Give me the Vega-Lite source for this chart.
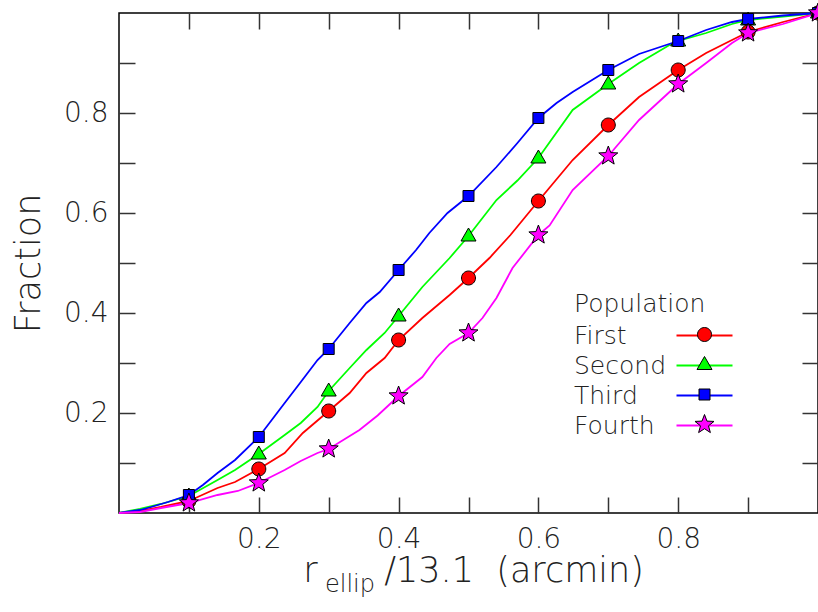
{
  "$schema": "https://vega.github.io/schema/vega-lite/v6.json",
  "width": 699,
  "height": 500,
  "autosize": {"type": "none"},
  "padding": {"left": 119, "top": 13, "right": 0, "bottom": 99},
  "background": "white",
  "config": {
    "view": {"stroke": "black", "strokeWidth": 1.5},
    "font": "DejaVu Sans",
    "axis": {
      "domain": false, "grid": false, "tickSize": -16, "tickColor": "#333", "tickWidth": 1.5,
      "labelFont": "DejaVu Sans", "labelFontSize": 28, "labelColor": "#222", "labelFontWeight": 200,
      "titleFont": "DejaVu Sans", "titleFontWeight": 200, "titleColor": "#222"
    },
    "legend": {
      "orient": "none", "legendX": 455, "padding": 0,
      "titleFontSize": 25, "titleFontWeight": 200, "titleFont": "DejaVu Sans", "titleColor": "#222", "titlePadding": 6,
      "labelFontSize": 25, "labelFont": "DejaVu Sans", "labelFontWeight": 200, "labelColor": "#222",
      "symbolSize": 4, "symbolOffset": 118, "labelOffset": -143, "rowPadding": 4
    }
  },
  "title": {"text": "ellip", "orient": "bottom", "anchor": "start", "frame": "group", "fontSize": 24, "fontWeight": 200, "font": "DejaVu Sans", "color": "#222", "dx": 206, "dy": -19},
  "datasets": {
    "curves": [
      {"Population": "First", "x": 0, "f": 0},
      {"Population": "First", "x": 0.03, "f": 0.004},
      {"Population": "First", "x": 0.06, "f": 0.012},
      {"Population": "First", "x": 0.1, "f": 0.024},
      {"Population": "First", "x": 0.141, "f": 0.05},
      {"Population": "First", "x": 0.166, "f": 0.062},
      {"Population": "First", "x": 0.2, "f": 0.088},
      {"Population": "First", "x": 0.237, "f": 0.12},
      {"Population": "First", "x": 0.263, "f": 0.16},
      {"Population": "First", "x": 0.3, "f": 0.204},
      {"Population": "First", "x": 0.33, "f": 0.24},
      {"Population": "First", "x": 0.354, "f": 0.28},
      {"Population": "First", "x": 0.38, "f": 0.31},
      {"Population": "First", "x": 0.4, "f": 0.346},
      {"Population": "First", "x": 0.434, "f": 0.39},
      {"Population": "First", "x": 0.473, "f": 0.436},
      {"Population": "First", "x": 0.5, "f": 0.47},
      {"Population": "First", "x": 0.53, "f": 0.51},
      {"Population": "First", "x": 0.56, "f": 0.556},
      {"Population": "First", "x": 0.6, "f": 0.624},
      {"Population": "First", "x": 0.649, "f": 0.706},
      {"Population": "First", "x": 0.7, "f": 0.776},
      {"Population": "First", "x": 0.744, "f": 0.832},
      {"Population": "First", "x": 0.8, "f": 0.886},
      {"Population": "First", "x": 0.84, "f": 0.92},
      {"Population": "First", "x": 0.877, "f": 0.946},
      {"Population": "First", "x": 0.9, "f": 0.962},
      {"Population": "First", "x": 0.95, "f": 0.982},
      {"Population": "First", "x": 1.0, "f": 1.0},
      {"Population": "Second", "x": 0, "f": 0},
      {"Population": "Second", "x": 0.03, "f": 0.008},
      {"Population": "Second", "x": 0.06, "f": 0.018},
      {"Population": "Second", "x": 0.1, "f": 0.034},
      {"Population": "Second", "x": 0.141, "f": 0.066},
      {"Population": "Second", "x": 0.166, "f": 0.086},
      {"Population": "Second", "x": 0.2, "f": 0.118},
      {"Population": "Second", "x": 0.237, "f": 0.156},
      {"Population": "Second", "x": 0.26, "f": 0.18},
      {"Population": "Second", "x": 0.284, "f": 0.212},
      {"Population": "Second", "x": 0.3, "f": 0.244},
      {"Population": "Second", "x": 0.33, "f": 0.29},
      {"Population": "Second", "x": 0.354, "f": 0.326},
      {"Population": "Second", "x": 0.38, "f": 0.36},
      {"Population": "Second", "x": 0.4, "f": 0.394},
      {"Population": "Second", "x": 0.434, "f": 0.452},
      {"Population": "Second", "x": 0.473, "f": 0.51},
      {"Population": "Second", "x": 0.5, "f": 0.554},
      {"Population": "Second", "x": 0.54, "f": 0.626},
      {"Population": "Second", "x": 0.57, "f": 0.665},
      {"Population": "Second", "x": 0.6, "f": 0.71},
      {"Population": "Second", "x": 0.649, "f": 0.806},
      {"Population": "Second", "x": 0.7, "f": 0.858},
      {"Population": "Second", "x": 0.744, "f": 0.9},
      {"Population": "Second", "x": 0.79, "f": 0.938},
      {"Population": "Second", "x": 0.8, "f": 0.944},
      {"Population": "Second", "x": 0.84, "f": 0.96},
      {"Population": "Second", "x": 0.877, "f": 0.978},
      {"Population": "Second", "x": 0.9, "f": 0.986},
      {"Population": "Second", "x": 0.95, "f": 0.993},
      {"Population": "Second", "x": 1.0, "f": 1.0},
      {"Population": "Third", "x": 0, "f": 0},
      {"Population": "Third", "x": 0.03, "f": 0.006},
      {"Population": "Third", "x": 0.046, "f": 0.012},
      {"Population": "Third", "x": 0.07, "f": 0.022},
      {"Population": "Third", "x": 0.1, "f": 0.036},
      {"Population": "Third", "x": 0.12, "f": 0.056},
      {"Population": "Third", "x": 0.141, "f": 0.08},
      {"Population": "Third", "x": 0.166, "f": 0.106},
      {"Population": "Third", "x": 0.2, "f": 0.152},
      {"Population": "Third", "x": 0.237, "f": 0.22},
      {"Population": "Third", "x": 0.259, "f": 0.26},
      {"Population": "Third", "x": 0.284, "f": 0.306},
      {"Population": "Third", "x": 0.3, "f": 0.328},
      {"Population": "Third", "x": 0.33, "f": 0.38},
      {"Population": "Third", "x": 0.354, "f": 0.42},
      {"Population": "Third", "x": 0.373, "f": 0.442},
      {"Population": "Third", "x": 0.4, "f": 0.486},
      {"Population": "Third", "x": 0.425, "f": 0.526},
      {"Population": "Third", "x": 0.444, "f": 0.56},
      {"Population": "Third", "x": 0.47, "f": 0.6},
      {"Population": "Third", "x": 0.5, "f": 0.634},
      {"Population": "Third", "x": 0.54, "f": 0.692},
      {"Population": "Third", "x": 0.57, "f": 0.74},
      {"Population": "Third", "x": 0.6, "f": 0.79},
      {"Population": "Third", "x": 0.626, "f": 0.82},
      {"Population": "Third", "x": 0.649, "f": 0.842},
      {"Population": "Third", "x": 0.7, "f": 0.886},
      {"Population": "Third", "x": 0.744, "f": 0.918},
      {"Population": "Third", "x": 0.8, "f": 0.944},
      {"Population": "Third", "x": 0.84, "f": 0.966},
      {"Population": "Third", "x": 0.877, "f": 0.982},
      {"Population": "Third", "x": 0.9, "f": 0.988},
      {"Population": "Third", "x": 0.95, "f": 0.995},
      {"Population": "Third", "x": 1.0, "f": 1.0},
      {"Population": "Fourth", "x": 0, "f": 0},
      {"Population": "Fourth", "x": 0.03, "f": 0.002},
      {"Population": "Fourth", "x": 0.06, "f": 0.01},
      {"Population": "Fourth", "x": 0.1, "f": 0.02},
      {"Population": "Fourth", "x": 0.141, "f": 0.036},
      {"Population": "Fourth", "x": 0.17, "f": 0.044},
      {"Population": "Fourth", "x": 0.2, "f": 0.06},
      {"Population": "Fourth", "x": 0.237, "f": 0.086},
      {"Population": "Fourth", "x": 0.26, "f": 0.104},
      {"Population": "Fourth", "x": 0.284, "f": 0.12},
      {"Population": "Fourth", "x": 0.3, "f": 0.128},
      {"Population": "Fourth", "x": 0.344, "f": 0.166},
      {"Population": "Fourth", "x": 0.37, "f": 0.195},
      {"Population": "Fourth", "x": 0.4, "f": 0.234},
      {"Population": "Fourth", "x": 0.434, "f": 0.272},
      {"Population": "Fourth", "x": 0.454, "f": 0.31},
      {"Population": "Fourth", "x": 0.473, "f": 0.338},
      {"Population": "Fourth", "x": 0.5, "f": 0.36},
      {"Population": "Fourth", "x": 0.52, "f": 0.39},
      {"Population": "Fourth", "x": 0.54, "f": 0.43},
      {"Population": "Fourth", "x": 0.563, "f": 0.49},
      {"Population": "Fourth", "x": 0.6, "f": 0.556},
      {"Population": "Fourth", "x": 0.616, "f": 0.575},
      {"Population": "Fourth", "x": 0.649, "f": 0.646},
      {"Population": "Fourth", "x": 0.7, "f": 0.714},
      {"Population": "Fourth", "x": 0.744, "f": 0.786},
      {"Population": "Fourth", "x": 0.8, "f": 0.858},
      {"Population": "Fourth", "x": 0.84, "f": 0.9},
      {"Population": "Fourth", "x": 0.877, "f": 0.94},
      {"Population": "Fourth", "x": 0.9, "f": 0.96},
      {"Population": "Fourth", "x": 0.95, "f": 0.978},
      {"Population": "Fourth", "x": 1.0, "f": 1.0}
    ],
    "markers": [
      {"Population": "First", "x": 0.1, "f": 0.024},
      {"Population": "First", "x": 0.2, "f": 0.088},
      {"Population": "First", "x": 0.3, "f": 0.204},
      {"Population": "First", "x": 0.4, "f": 0.346},
      {"Population": "First", "x": 0.5, "f": 0.47},
      {"Population": "First", "x": 0.6, "f": 0.624},
      {"Population": "First", "x": 0.7, "f": 0.776},
      {"Population": "First", "x": 0.8, "f": 0.886},
      {"Population": "First", "x": 0.9, "f": 0.962},
      {"Population": "First", "x": 1.0, "f": 1.0},
      {"Population": "Second", "x": 0.1, "f": 0.034},
      {"Population": "Second", "x": 0.2, "f": 0.118},
      {"Population": "Second", "x": 0.3, "f": 0.244},
      {"Population": "Second", "x": 0.4, "f": 0.394},
      {"Population": "Second", "x": 0.5, "f": 0.554},
      {"Population": "Second", "x": 0.6, "f": 0.71},
      {"Population": "Second", "x": 0.7, "f": 0.858},
      {"Population": "Second", "x": 0.8, "f": 0.944},
      {"Population": "Second", "x": 0.9, "f": 0.986},
      {"Population": "Second", "x": 1.0, "f": 1.0},
      {"Population": "Third", "x": 0.1, "f": 0.036},
      {"Population": "Third", "x": 0.2, "f": 0.152},
      {"Population": "Third", "x": 0.3, "f": 0.328},
      {"Population": "Third", "x": 0.4, "f": 0.486},
      {"Population": "Third", "x": 0.5, "f": 0.634},
      {"Population": "Third", "x": 0.6, "f": 0.79},
      {"Population": "Third", "x": 0.7, "f": 0.886},
      {"Population": "Third", "x": 0.8, "f": 0.944},
      {"Population": "Third", "x": 0.9, "f": 0.988},
      {"Population": "Third", "x": 1.0, "f": 1.0},
      {"Population": "Fourth", "x": 0.1, "f": 0.02},
      {"Population": "Fourth", "x": 0.2, "f": 0.06},
      {"Population": "Fourth", "x": 0.3, "f": 0.128},
      {"Population": "Fourth", "x": 0.4, "f": 0.234},
      {"Population": "Fourth", "x": 0.5, "f": 0.36},
      {"Population": "Fourth", "x": 0.6, "f": 0.556},
      {"Population": "Fourth", "x": 0.7, "f": 0.714},
      {"Population": "Fourth", "x": 0.8, "f": 0.858},
      {"Population": "Fourth", "x": 0.9, "f": 0.96},
      {"Population": "Fourth", "x": 1.0, "f": 1.0}
    ]
  },
  "layer": [
    {
      "data": {"name": "curves"},
      "mark": {"type": "line", "strokeWidth": 1.8, "clip": false},
      "encoding": {
        "x": {
          "field": "x", "type": "quantitative",
          "scale": {"domain": [0, 1], "nice": false, "zero": false},
          "axis": {
            "orient": "bottom",
            "values": [0.1, 0.2, 0.3, 0.4, 0.5, 0.6, 0.7, 0.8, 0.9],
            "labelExpr": "indexof(['0.2','0.4','0.6','0.8'], format(datum.value, '.1f')) >= 0 ? format(datum.value, '.1f') : ''",
            "labelPadding": 28,
            "title": "r\u00a0\u00a0\u00a0\u00a0\u00a0\u00a0/13.1\u00a0\u00a0(arcmin)",
            "titleFontSize": 35,
            "titlePadding": 0,
            "titleX": 354
          }
        },
        "y": {
          "field": "f", "type": "quantitative",
          "scale": {"domain": [0, 1], "nice": false, "zero": false},
          "axis": {
            "orient": "left",
            "values": [0.1, 0.2, 0.3, 0.4, 0.5, 0.6, 0.7, 0.8, 0.9],
            "labelExpr": "indexof(['0.2','0.4','0.6','0.8'], format(datum.value, '.1f')) >= 0 ? format(datum.value, '.1f') : ''",
            "labelPadding": 27,
            "title": "Fraction",
            "titleFontSize": 35,
            "titlePadding": 17
          }
        },
        "stroke": {
          "field": "Population", "type": "nominal",
          "sort": ["First", "Second", "Third", "Fourth"],
          "scale": {"range": ["#ff0000", "#00ff00", "#0000ff", "#ff00ff"]},
          "legend": {
            "legendY": 279, "title": "Population",
            "symbolType": "M-28,0H28", "symbolStrokeWidth": 1.8
          }
        }
      }
    },
    {
      "data": {"name": "markers"},
      "transform": [{"filter": "datum.Population == 'First'"}],
      "mark": {"type": "point", "shape": "M7,0A7,7,0,1,1,-7,0A7,7,0,1,1,7,0Z", "filled": true, "stroke": "black", "strokeWidth": 1, "size": 4, "opacity": 1, "clip": false},
      "encoding": {
        "x": {
          "field": "x", "type": "quantitative",
          "scale": {"domain": [0, 1], "nice": false, "zero": false},
          "axis": {"orient": "top", "values": [0.1, 0.2, 0.3, 0.4, 0.5, 0.6, 0.7, 0.8, 0.9], "labels": false, "title": null}
        },
        "y": {
          "field": "f", "type": "quantitative",
          "scale": {"domain": [0, 1], "nice": false, "zero": false},
          "axis": {"orient": "right", "values": [0.1, 0.2, 0.3, 0.4, 0.5, 0.6, 0.7, 0.8, 0.9], "labels": false, "title": null}
        },
        "fill": {
          "field": "Population", "type": "nominal",
          "scale": {"range": ["#ff0000"]},
          "legend": {"legendY": 309, "title": null, "labelOpacity": 0, "symbolType": "M7,0A7,7,0,1,1,-7,0A7,7,0,1,1,7,0Z", "symbolStrokeColor": "black", "symbolStrokeWidth": 1}
        }
      }
    },
    {
      "data": {"name": "markers"},
      "transform": [{"filter": "datum.Population == 'Second'"}],
      "mark": {"type": "point", "shape": "M0,-8L7.5,5L-7.5,5Z", "filled": true, "stroke": "black", "strokeWidth": 1, "size": 4, "opacity": 1, "clip": false},
      "encoding": {
        "x": {"field": "x", "type": "quantitative", "scale": {"domain": [0, 1], "nice": false, "zero": false}, "axis": null},
        "y": {"field": "f", "type": "quantitative", "scale": {"domain": [0, 1], "nice": false, "zero": false}, "axis": null},
        "fill": {
          "field": "Population", "type": "nominal",
          "scale": {"range": ["#00ff00"]},
          "legend": {"legendY": 339, "title": null, "labelOpacity": 0, "symbolType": "M0,-8L7.5,5L-7.5,5Z", "symbolStrokeColor": "black", "symbolStrokeWidth": 1}
        }
      }
    },
    {
      "data": {"name": "markers"},
      "transform": [{"filter": "datum.Population == 'Third'"}],
      "mark": {"type": "point", "shape": "M-5.5,-5.5H5.5V5.5H-5.5Z", "filled": true, "stroke": "black", "strokeWidth": 1, "size": 4, "opacity": 1, "clip": false},
      "encoding": {
        "x": {"field": "x", "type": "quantitative", "scale": {"domain": [0, 1], "nice": false, "zero": false}, "axis": null},
        "y": {"field": "f", "type": "quantitative", "scale": {"domain": [0, 1], "nice": false, "zero": false}, "axis": null},
        "fill": {
          "field": "Population", "type": "nominal",
          "scale": {"range": ["#0000ff"]},
          "legend": {"legendY": 369, "title": null, "labelOpacity": 0, "symbolType": "M-5.5,-5.5H5.5V5.5H-5.5Z", "symbolStrokeColor": "black", "symbolStrokeWidth": 1}
        }
      }
    },
    {
      "data": {"name": "markers"},
      "transform": [{"filter": "datum.Population == 'Fourth'"}],
      "mark": {"type": "point", "shape": "M0,-10L2.47,-3.4L9.51,-3.09L3.99,1.3L5.88,8.09L0,4.2L-5.88,8.09L-3.99,1.3L-9.51,-3.09L-2.47,-3.4Z", "filled": true, "stroke": "black", "strokeWidth": 1, "size": 4, "opacity": 1, "clip": false},
      "encoding": {
        "x": {"field": "x", "type": "quantitative", "scale": {"domain": [0, 1], "nice": false, "zero": false}, "axis": null},
        "y": {"field": "f", "type": "quantitative", "scale": {"domain": [0, 1], "nice": false, "zero": false}, "axis": null},
        "fill": {
          "field": "Population", "type": "nominal",
          "scale": {"range": ["#ff00ff"]},
          "legend": {"legendY": 399, "title": null, "labelOpacity": 0, "symbolType": "M0,-10L2.47,-3.4L9.51,-3.09L3.99,1.3L5.88,8.09L0,4.2L-5.88,8.09L-3.99,1.3L-9.51,-3.09L-2.47,-3.4Z", "symbolStrokeColor": "black", "symbolStrokeWidth": 1}
        }
      }
    }
  ],
  "resolve": {"axis": {"x": "independent", "y": "independent"}, "scale": {"fill": "independent"}}
}
